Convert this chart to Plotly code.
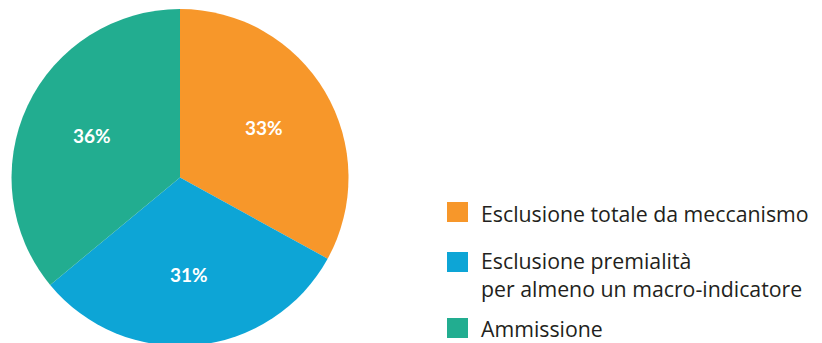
import math
import plotly.graph_objects as go

# share of cases per outcome
labels = ["Esclusione totale da meccanismo",
          "Esclusione premialità<br>per almeno un macro-indicatore",
          "Ammissione"]
values = [33, 31, 36]
colors = ["#F7972A", "#0DA5D6", "#22AD90"]

W, H = 822, 343
TOP, BOT = 1, 5
OFF = 8  # page body margin, the figure div starts 8px in

fig = go.Figure()
fig.add_pie(
    labels=labels, values=values, sort=False, direction="clockwise",
    marker=dict(colors=colors, line=dict(width=0)),
    textinfo="none",
    domain=dict(x=[3.5 / W, 340.5 / W], y=[0, 1]),
    showlegend=False, hoverinfo="label+value",
)

def px_(xpage):
    return (xpage - OFF) / W

def py_(ypage):
    return (H - BOT - (ypage - OFF)) / (H - TOP - BOT)

# percent labels, placed along each slice's middle angle
cx, cy, r = 180, 177.5, 168.5
total = sum(values)
start = 90.0
for v in values:
    mid = math.radians(start - v / total * 180)
    start -= v / total * 360
    fig.add_annotation(x=px_(cx + 0.58 * r * math.cos(mid)),
                       y=py_(cy - 0.58 * r * math.sin(mid)),
                       xref="paper", yref="paper", text=f"{v}%", showarrow=False,
                       xanchor="center", yanchor="middle",
                       font=dict(size=19, color="white", family="Lato", weight="bold"))

# hand-made legend with bigger swatches
rows = [212, 262, 328]
text_y = [213, 274, 328]
for lab, col, yc, ty in zip(labels, colors, rows, text_y):
    fig.add_shape(type="rect", xref="paper", yref="paper",
                  x0=px_(447), x1=px_(468), y0=py_(yc + 10), y1=py_(yc - 10),
                  fillcolor=col, line=dict(width=0))
    fig.add_annotation(x=px_(479), y=py_(ty), xref="paper", yref="paper",
                       text=lab, showarrow=False, xanchor="left", yanchor="middle",
                       align="left", font=dict(size=21.3, color="#231F20", family="Open Sans"))

fig.update_layout(width=W, height=H, margin=dict(l=0, r=0, t=TOP, b=BOT),
                  paper_bgcolor="white", plot_bgcolor="white")
fig.write_html("out.html")
